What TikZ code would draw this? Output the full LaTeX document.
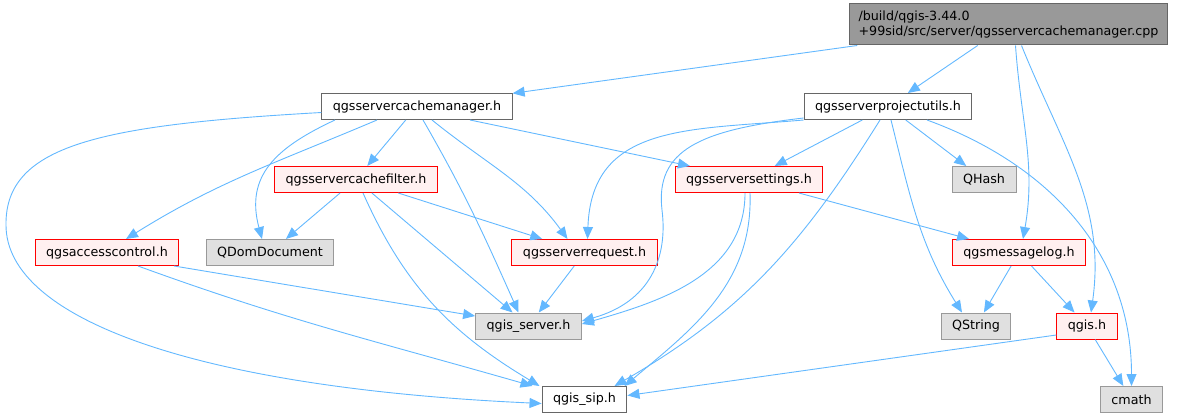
\documentclass[tikz,border=0pt]{standalone}
\usepackage{fontspec}
\setmainfont{DejaVu Sans}
\usepackage{tikz}
\usetikzlibrary{arrows.meta}

\definecolor{edgeblue}{HTML}{63B8FF}
\definecolor{redfill}{HTML}{FFF0F0}
\definecolor{sysfill}{HTML}{E0E0E0}
\definecolor{sysline}{HTML}{999999}
\definecolor{topfill}{HTML}{999999}
\definecolor{docline}{HTML}{666666}

\begin{document}
\begin{tikzpicture}[x=1pt,y=-1pt,
  box/.style={rectangle,font=\fontsize{12.7}{15}\selectfont,inner xsep=11pt,inner ysep=0pt,minimum height=26pt,line width=1pt},
  doc/.style={box,draw=docline,fill=white},
  trunc/.style={box,draw=red,fill=redfill},
  sys/.style={box,draw=sysline,fill=sysfill},
  dep/.style={draw=edgeblue,line width=0.9pt,-{Triangle[length=12pt,width=10pt]}}]
\useasboundingbox (0,0) rectangle (1177,417);

\node [box,draw=docline,fill=topfill,align=left,minimum height=41pt,inner xsep=9pt] (z) at (1008.5,24.5)
  {/build/qgis-3.44.0\\+99sid/src/server/qgsservercachemanager.cpp};
\node [doc] (a) at (417,106.5) {qgsservercachemanager.h};
\node [doc] (b) at (888,106.5) {qgsserverprojectutils.h};
\node [trunc] (c) at (356,179.5) {qgsservercachefilter.h};
\node [trunc] (d) at (749,179.5) {qgsserversettings.h};
\node [sys] (e) at (984,179.5) {QHash};
\node [trunc] (f) at (107,252.5) {qgsaccesscontrol.h};
\node [sys] (g) at (270,252.5) {QDomDocument};
\node [trunc] (h) at (584.5,252.5) {qgsserverrequest.h};
\node [trunc] (i) at (1019,252.5) {qgsmessagelog.h};
\node [sys] (j) at (528.5,326) {qgis\_server.h};
\node [sys] (k) at (976,326) {QString};
\node [trunc] (l) at (1087,326) {qgis.h};
\node [doc] (m) at (584.5,399.5) {qgis\_sip.h};
\node [sys] (n) at (1131.5,399.5) {cmath};

% source file
\draw [dep] (z) -- (a);
\draw [dep] (z) -- (b);
\draw [dep] ([xshift=7pt]z.south) to[out=-86,in=80] ([xshift=4pt]i.north);
\draw [dep] ([xshift=13pt]z.south) to[out=-68,in=82] ([xshift=4pt]l.north);

% qgsservercachemanager.h
\draw [dep] ([yshift=-6pt]a.west) .. controls (100,125) and (5,145) .. (6,225)
  .. controls (6,320) and (200,388) .. ([yshift=-4pt]m.west);
\draw [dep] ([xshift=-82pt]a.south) to[out=205,in=105,looseness=1.2] ([xshift=-8pt]g.north);
\draw [dep] ([xshift=-40pt]a.south) to[out=203,in=32] ([xshift=19pt]f.north);
\draw [dep] (a) -- (c);
\draw [dep] ([xshift=6pt]a.south) to[out=-60,in=114] ([xshift=-10pt]j.north);
\draw [dep] ([xshift=15pt]a.south) to[out=-39,in=126] ([xshift=-17pt]h.north);
\draw [dep] ([xshift=53pt]a.south) -- ([xshift=-59pt]d.north);

% qgsserverprojectutils.h
\draw [dep] (b) -- (d);
\draw [dep] (b) -- (e);
\draw [dep] (b.south west) to[out=185,in=88,looseness=1.2] ([xshift=3pt]h.north);
\draw [dep] ([yshift=2pt]b.south west) .. controls (700,130) and (655,150) .. (662,210)
  .. controls (668,258) and (650,302) .. ([yshift=5pt]j.east);
\draw [dep] ([xshift=-8pt]b.south) to[out=-122,in=30] ([xshift=30pt]m.north);
\draw [dep] ([xshift=3pt]b.south) to[out=-76,in=122] ([xshift=-14pt]k.north);
\draw [dep] ([xshift=39pt]b.south) to[out=-20,in=90] (n.north);

% qgsservercachefilter.h
\draw [dep] (c) -- (g);
\draw [dep] (c) -- (h);
\draw [dep] (c) -- (j);
\draw [dep] ([xshift=7pt]c.south) to[out=-66,in=149] ([xshift=-45pt]m.north);

% qgsserversettings.h
\draw [dep] (d) -- (i);
\draw [dep] ([xshift=-4pt]d.south) to[out=-90,in=16] ([yshift=2pt]j.east);
\draw [dep] ([xshift=1pt]d.south) to[out=-88,in=40] ([xshift=40pt]m.north);

% the rest
\draw [dep] ([xshift=67pt]f.south) -- ([yshift=10pt]j.west);
\draw [dep] ([xshift=31pt]f.south) to[out=-20,in=164] ([xshift=-52pt]m.north);
\draw [dep] (h) -- (j);
\draw [dep] (i) -- (k);
\draw [dep] (i) -- (l);
\draw [dep] ([yshift=-9pt]l.west) -- ([yshift=4pt]m.east);
\draw [dep] (l) -- (n);
\end{tikzpicture}
\end{document}
